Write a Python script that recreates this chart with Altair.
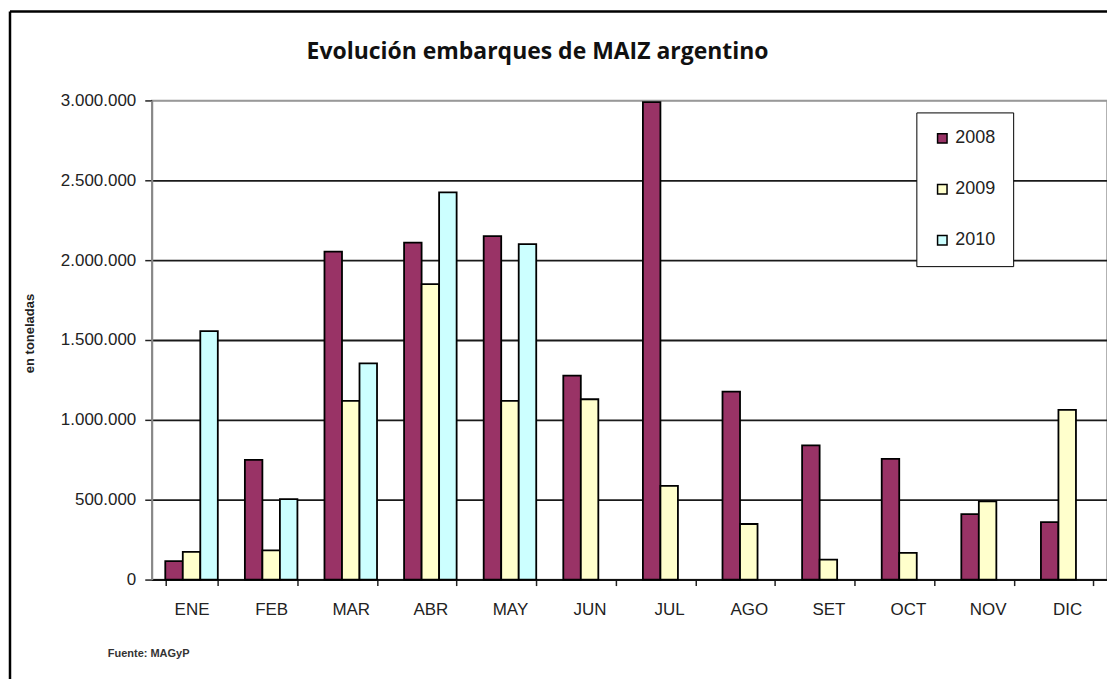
import altair as alt
import pandas as pd

months = ["ENE", "FEB", "MAR", "ABR", "MAY", "JUN", "JUL", "AGO", "SET", "OCT", "NOV", "DIC"]
years = ["2008", "2009", "2010"]
v2008 = [115000, 750000, 2054000, 2110000, 2150000, 1277000, 2990000, 1177000, 840000, 756000, 410000, 360000]
v2009 = [173000, 183000, 1119000, 1850000, 1119000, 1129000, 587000, 348000, 125000, 167000, 490000, 1062000]
v2010 = [1556000, 504000, 1354000, 2425000, 2100000]
colors = ["#993366", "#FFFFCC", "#CCFFFF"]
y_ticks = [0, 500000, 1000000, 1500000, 2000000, 2500000, 3000000]

rows = []
for series, yr in zip([v2008, v2009, v2010], years):
    for m, v in zip(months, series):
        rows.append({"mes": m, "anio": yr, "valor": v})
df = pd.DataFrame(rows)

W, H = 957, 480
FONT = "Liberation Sans"

bars = alt.Chart(df).mark_bar(stroke="black", strokeWidth=1.8).encode(
    x=alt.X("mes:N", sort=months,
            scale=alt.Scale(paddingInner=0.34, paddingOuter=0.17),
            axis=alt.Axis(title=None, labelAngle=0, tickBand="extent",
                          labelFont=FONT, labelFontSize=17, labelColor="#222",
                          labelPadding=16, tickSize=6, tickColor="#222", tickWidth=1.5,
                          domainColor="#111", domainWidth=2, grid=False)),
    xOffset=alt.XOffset("anio:N", scale=alt.Scale(domain=years, paddingInner=0, paddingOuter=0)),
    y=alt.Y("valor:Q", scale=alt.Scale(domain=[0, 3000000], nice=False),
            axis=alt.Axis(title="en toneladas", values=y_ticks,
                          labelExpr="replace(format(datum.value, ','), /,/g, '.')",
                          labelFont=FONT, labelFontSize=17, labelColor="#222",
                          labelPadding=9, tickSize=7, tickColor="#222", tickWidth=1.5,
                          domainColor="#888", domainWidth=2,
                          gridColor={"condition": {"test": "datum.value == 3000000", "value": "#999999"}, "value": "#1a1a1a"},
                          gridWidth=1.8,
                          titleFont=FONT, titleFontSize=13, titleFontWeight="bold",
                          titleColor="#222", titleAngle=-90, titleX=-122, titleY=233,
                          titleAlign="center", titleBaseline="middle")),
    color=alt.Color("anio:N", scale=alt.Scale(domain=years, range=colors),
                    legend=alt.Legend(orient="none", legendX=766, legendY=12, title=None,
                                      fillColor="white", strokeColor="black",
                                      padding=17, rowPadding=33, symbolType="square",
                                      symbolSize=90, symbolStrokeColor="black", symbolStrokeWidth=1.5,
                                      labelFont=FONT, labelFontSize=18, labelColor="#222",
                                      labelOffset=4)),
)

frame_df = pd.DataFrame({"k": [0]})
left_border = alt.Chart(frame_df).mark_rule(color="black", strokeWidth=2.5).encode(
    x=alt.value(-142), y=alt.value(-89), y2=alt.value(700))
top_border = alt.Chart(frame_df).mark_rule(color="black", strokeWidth=2.5).encode(
    x=alt.value(-142), x2=alt.value(1100), y=alt.value(-89))

src_df = pd.DataFrame({"t": ["Fuente: MAGyP"]})
source = alt.Chart(src_df).mark_text(align="left", baseline="middle", font=FONT,
                                     fontSize=11, fontWeight="bold", color="#333").encode(
    x=alt.value(-44), y=alt.value(555), text="t:N")

chart = alt.layer(bars, left_border, top_border, source).properties(
    width=W, height=H,
    title=alt.TitleParams("Evolución embarques de MAIZ argentino", font="Open Sans",
                          fontSize=23, fontWeight="bold", color="#111",
                          anchor="middle", frame="group", baseline="alphabetic",
                          offset=-72, dx=-92),
    autosize=alt.AutoSizeParams(type="none"),
    padding={"left": 144, "top": 92, "right": 0, "bottom": 99},
).configure_view(stroke="#999999", strokeWidth=1.5)

chart.save("out.html", embed_options={"renderer": "svg", "actions": False})
